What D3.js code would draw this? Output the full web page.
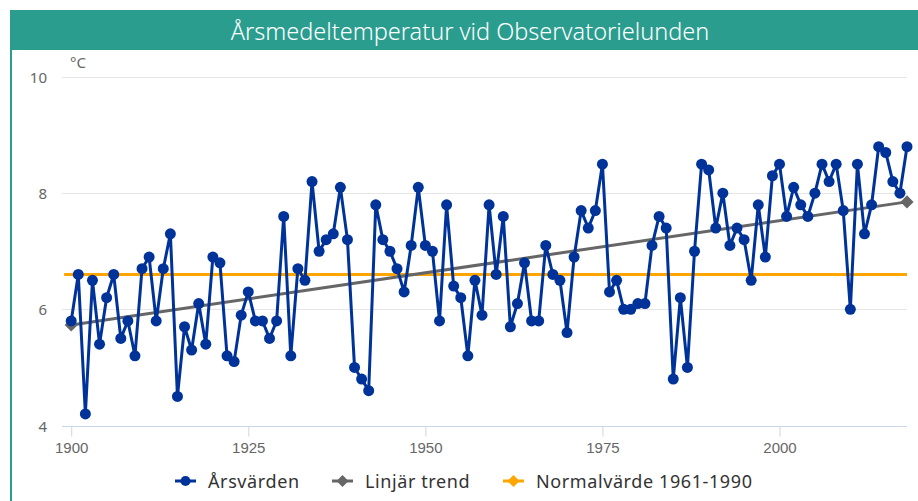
<!DOCTYPE html>
<html>
<head>
<meta charset="utf-8">
<script src="https://cdn.jsdelivr.net/npm/d3@7/dist/d3.min.js"></script>
<style>
  body { margin: 0; background: #fff; }
  svg { display: block; font-family: "Noto Sans", "Open Sans", sans-serif; }
</style>
</head>
<body>
<div class="chart"></div>
<script>
// yearly mean temperature, 1900..2018
var years = d3.range(1900, 2019);
var yearValues = [
  5.8, 6.6, 4.2, 6.5, 5.4, 6.2, 6.6, 5.5, 5.8, 5.2,
  6.7, 6.9, 5.8, 6.7, 7.3, 4.5, 5.7, 5.3, 6.1, 5.4,
  6.9, 6.8, 5.2, 5.1, 5.9, 6.3, 5.8, 5.8, 5.5, 5.8,
  7.6, 5.2, 6.7, 6.5, 8.2, 7.0, 7.2, 7.3, 8.1, 7.2,
  5.0, 4.8, 4.6, 7.8, 7.2, 7.0, 6.7, 6.3, 7.1, 8.1,
  7.1, 7.0, 5.8, 7.8, 6.4, 6.2, 5.2, 6.5, 5.9, 7.8,
  6.6, 7.6, 5.7, 6.1, 6.8, 5.8, 5.8, 7.1, 6.6, 6.5,
  5.6, 6.9, 7.7, 7.4, 7.7, 8.5, 6.3, 6.5, 6.0, 6.0,
  6.1, 6.1, 7.1, 7.6, 7.4, 4.8, 6.2, 5.0, 7.0, 8.5,
  8.4, 7.4, 8.0, 7.1, 7.4, 7.2, 6.5, 7.8, 6.9, 8.3,
  8.5, 7.6, 8.1, 7.8, 7.6, 8.0, 8.5, 8.2, 8.5, 7.7,
  6.0, 8.5, 7.3, 7.8, 8.8, 8.7, 8.2, 8.0, 8.8
];
var trendYears = [1900, 2018];
var trendValues = [5.73, 7.85];
var normalYears = [1899, 2018];
var normalValues = [6.6, 6.6];

var xTicks = [1900, 1925, 1950, 1975, 2000];
var yTicks = [4, 6, 8, 10];
var legendNames = ["Årsvärden", "Linjär trend", "Normalvärde 1961-1990"];

var W = 918, H = 501;
var blue = "#003399", gray = "#666666", orange = "#ffa500", teal = "#2a9d8f";

var svg = d3.select(".chart").append("svg")
  .attr("width", W)
  .attr("height", H);

// header band + left border
svg.append("rect").attr("x", 10).attr("y", 10).attr("width", W - 10).attr("height", 40).attr("fill", teal);
svg.append("rect").attr("x", 10).attr("y", 10).attr("width", 2).attr("height", H - 10).attr("fill", teal);
svg.append("text")
  .attr("x", 470).attr("y", 31)
  .attr("text-anchor", "middle").attr("dominant-baseline", "central")
  .attr("fill", "#fff").attr("font-size", 23.5).attr("font-weight", 300)
  .text("Årsmedeltemperatur vid Observatorielunden");

var x = d3.scaleLinear().domain([1898.7, 2018]).range([62, 907]);
var y = d3.scaleLinear().domain([4, 10]).range([425.5, 77]);

// grid
svg.append("g").selectAll("line")
  .data(yTicks.slice(1))
  .enter().append("line")
  .attr("x1", 62).attr("x2", 907)
  .attr("y1", d => Math.round(y(d)) + 0.5).attr("y2", d => Math.round(y(d)) + 0.5)
  .attr("stroke", "#e6e6e6");

svg.append("g").selectAll("text")
  .data(yTicks)
  .enter().append("text")
  .attr("x", 47).attr("y", d => y(d))
  .attr("text-anchor", "end").attr("dominant-baseline", "central")
  .attr("fill", "#666").attr("font-size", 15)
  .text(d => d);

svg.append("text")
  .attr("x", 70).attr("y", 68)
  .attr("fill", "#666").attr("font-size", 15)
  .text("°C");

// x axis
var xAxis = d3.axisBottom(x).tickValues(xTicks).tickFormat(d3.format("d")).tickSize(10).tickPadding(6);
var gx = svg.append("g")
  .attr("transform", "translate(0," + (Math.round(y(4)) + 0.5) + ")")
  .call(xAxis);
gx.select(".domain").attr("stroke", "#ccd6eb").attr("d", "M62,0H907");
gx.selectAll(".tick line").attr("stroke", "#ccd6eb");
gx.selectAll(".tick text").attr("fill", "#666").attr("font-size", 15).attr("font-family", "inherit");

// series
var line = d3.line().x(d => x(d[0])).y(d => y(d[1]));

svg.append("path")
  .datum(d3.zip(normalYears, normalValues))
  .attr("d", line).attr("fill", "none")
  .attr("stroke", orange).attr("stroke-width", 3);

svg.append("path")
  .datum(d3.zip(trendYears, trendValues))
  .attr("d", line).attr("fill", "none")
  .attr("stroke", gray).attr("stroke-width", 3);

svg.append("g").selectAll("path")
  .data(d3.zip(trendYears, trendValues))
  .enter().append("path")
  .attr("d", d3.symbol().type(d3.symbolDiamond2).size(110))
  .attr("transform", d => "translate(" + x(d[0]) + "," + y(d[1]) + ")")
  .attr("fill", gray);

var pts = d3.zip(years, yearValues);
svg.append("path")
  .datum(pts)
  .attr("d", line).attr("fill", "none")
  .attr("stroke", blue).attr("stroke-width", 3).attr("stroke-linejoin", "round");

svg.append("g").selectAll("circle")
  .data(pts)
  .enter().append("circle")
  .attr("cx", d => x(d[0])).attr("cy", d => y(d[1]))
  .attr("r", 5.5)
  .attr("fill", blue);

// legend
var legendX = [175, 332, 503];
var legendColors = [blue, gray, orange];
var lg = svg.append("g").selectAll("g")
  .data(legendNames)
  .enter().append("g")
  .attr("transform", (d, i) => "translate(" + legendX[i] + ",481)");
lg.append("line").attr("x1", 0).attr("x2", 21)
  .attr("stroke", (d, i) => legendColors[i]).attr("stroke-width", 3);
lg.append("path")
  .attr("d", (d, i) => d3.symbol().type(i == 0 ? d3.symbolCircle : d3.symbolDiamond2).size(i == 0 ? 80 : 90)())
  .attr("transform", "translate(10.5,0)")
  .attr("fill", (d, i) => legendColors[i]);
lg.append("text")
  .attr("x", 33).attr("dominant-baseline", "central")
  .attr("fill", "#333").attr("font-size", 18).attr("letter-spacing", 0.6)
  .text(d => d);
</script>
</body>
</html>
